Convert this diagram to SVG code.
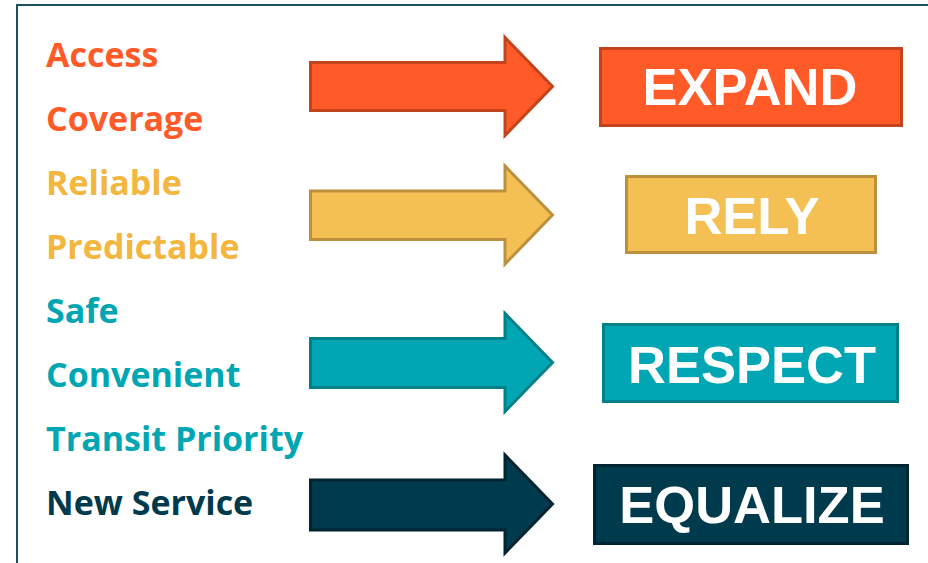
<svg xmlns="http://www.w3.org/2000/svg" width="928" height="563" viewBox="0 0 928 563">
<style>
.lbl{font-family:"Open Sans","Noto Sans",sans-serif;font-weight:700;font-size:34px}
.big{font-family:"Liberation Sans",Arial,sans-serif;font-weight:700;font-size:52.5px;fill:#ffffff;text-anchor:middle}
.o{fill:#FF5A28}.y{fill:#F3B63E}.t{fill:#00A6B2}.n{fill:#003A4C}
.arr,.box{stroke-width:3;stroke-linejoin:miter}
.so{fill:#FF5A28;stroke:#C3441C}
.sy{fill:#F4C053;stroke:#BD903E}
.st{fill:#00A6B4;stroke:#008088}
.sn{fill:#003B4D;stroke:#002431}
</style>
<rect width="928" height="563" fill="#ffffff"/>
<rect x="17" y="5" width="940" height="600" fill="none" stroke="#1F4E5E" stroke-width="2"/>
<g id="labels">
<text class="lbl o" x="46" y="67">Access</text>
<text class="lbl o" x="46" y="131">Coverage</text>
<text class="lbl y" x="46" y="195">Reliable</text>
<text class="lbl y" x="46" y="259">Predictable</text>
<text class="lbl t" x="46" y="323">Safe</text>
<text class="lbl t" x="46" y="387">Convenient</text>
<text class="lbl t" x="46" y="451">Transit Priority</text>
<text class="lbl n" x="46" y="515">New Service</text>
</g>
<g id="connectors">
<path class="arr so" d="M310.5,62.5 H505 V37.5 L552.5,86.5 L505,135.5 V110.5 H310.5 Z"/>
<path class="arr sy" d="M310.5,191 H505 V166 L552.5,215 L505,264 V239.5 H310.5 Z"/>
<path class="arr st" d="M310.5,338.5 H505 V313.5 L552.5,362.5 L505,411.5 V387.5 H310.5 Z"/>
<path class="arr sn" d="M310.5,480 H505 V455 L552.5,504 L505,553 V530 H310.5 Z"/>
</g>
<g id="expand">
<rect class="box so" x="600.5" y="48.5" width="301" height="77"/>
<text class="big" x="750" y="105">EXPAND</text>
</g>
<g id="rely">
<rect class="box sy" x="626.5" y="176.5" width="249" height="76"/>
<text class="big" x="752" y="234">RELY</text>
</g>
<g id="respect">
<rect class="box st" x="603.5" y="324.5" width="294" height="77"/>
<text class="big" x="752" y="383">RESPECT</text>
</g>
<g id="equalize">
<rect class="box sn" x="594.5" y="465.5" width="313" height="78"/>
<text class="big" x="752" y="523">EQUALIZE</text>
</g>
</svg>
